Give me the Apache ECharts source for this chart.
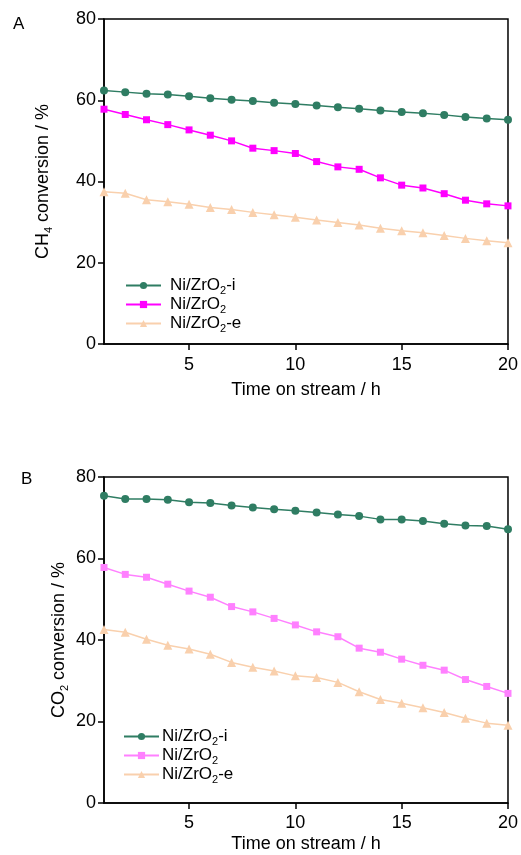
<!DOCTYPE html>
<html>
<head>
<meta charset="utf-8">
<script src="https://cdn.jsdelivr.net/npm/echarts@6/dist/echarts.min.js"></script>
<style>html,body{margin:0;padding:0;background:#fff}#c{width:521px;height:855px}</style>
</head>
<body>
<div id="c"></div>
<script>
var hours = [1,2,3,4,5,6,7,8,9,10,11,12,13,14,15,16,17,18,19,20];
var xTicks = [5,10,15,20];
var names = ['Ni/ZrO2-i','Ni/ZrO2','Ni/ZrO2-e'];
// Panel A: CH4 conversion (%)
var ch4_i = [62.4,62.0,61.6,61.4,61.0,60.5,60.1,59.8,59.4,59.1,58.7,58.3,57.9,57.5,57.1,56.8,56.4,55.9,55.5,55.2];
var ch4_n = [57.8,56.5,55.2,54.0,52.7,51.4,50.0,48.2,47.6,46.9,44.9,43.6,43.0,40.9,39.1,38.4,37.0,35.4,34.5,34.0];
var ch4_e = [37.5,37.1,35.5,35.0,34.4,33.6,33.1,32.4,31.8,31.2,30.5,29.9,29.3,28.5,27.9,27.4,26.7,26.0,25.4,24.9];
// Panel B: CO2 conversion (%)
var co2_i = [75.4,74.6,74.6,74.4,73.8,73.6,73.0,72.5,72.1,71.7,71.3,70.8,70.4,69.6,69.6,69.2,68.5,68.1,68.0,67.2];
var co2_n = [57.8,56.1,55.4,53.7,52.0,50.5,48.2,46.9,45.3,43.7,42.0,40.8,38.0,37.0,35.3,33.8,32.6,30.3,28.6,26.9];
var co2_e = [42.6,41.9,40.2,38.7,37.8,36.5,34.5,33.3,32.4,31.2,30.8,29.6,27.3,25.4,24.5,23.4,22.2,20.8,19.6,19.1];

var FONT = 'Liberation Sans, Arial, sans-serif';
var FS = 18;
var GREEN = '#2f7d63', MAG = '#ff00ff', PINK = '#ff80ff', PEACH = '#f9d0ad';

function pairs(v){ return hours.map(function(h,i){ return [h, v[i]]; }); }

function makeRich(lead, fs){
  fs = fs || 17;
  return {
    a: {fontSize: fs, fontFamily: FONT, color: '#000'},
    f: {fontSize: fs, fontFamily: FONT, color: '#000', padding: [0,0,0,lead]},
    s: {fontSize: 11, fontFamily: FONT, color: '#000', padding: [10,0,0,0]}
  };
}
function legendFmt(n){
  var m = n.match(/^Ni\/ZrO2(.*)$/);
  return '{f|Ni/ZrO}{s|2}' + (m[1] ? '{a|' + m[1] + '}' : '');
}

function xAx(gi, gap, margin){
  return {
    gridIndex: gi, type: 'value', min: 1, max: 20,
    name: 'Time on stream / h', nameLocation: 'middle', nameGap: gap, nameMoveOverlap: false,
    nameTextStyle: {fontSize: FS, fontFamily: FONT, color: '#000'},
    axisLine: {show: true, onZero: false, lineStyle: {color: '#000', width: 1.5}},
    axisTick: {show: true, inside: false, length: 6, customValues: xTicks, lineStyle: {color: '#000', width: 1.5}},
    axisLabel: {customValues: xTicks, fontSize: FS, fontFamily: FONT, color: '#000', margin: margin},
    splitLine: {show: false}
  };
}
function yAx(gi, sub, gap){
  return {
    gridIndex: gi, type: 'value', min: 0, max: 80, interval: 20,
    name: '{a|' + sub[0] + '}{s|' + sub[1] + '}{a|' + sub[2] + '}',
    nameLocation: 'middle', nameGap: gap, nameRotate: 90, nameMoveOverlap: false,
    nameTextStyle: {rich: makeRich(0, 18)},
    axisLine: {show: true, onZero: false, lineStyle: {color: '#000', width: 1.5}},
    axisTick: {show: true, inside: false, length: 6, lineStyle: {color: '#000', width: 1.5}},
    axisLabel: {fontSize: FS, fontFamily: FONT, color: '#000', margin: 8},
    splitLine: {show: false}
  };
}
function ser(name, data, color, symbol, size, gi){
  return {
    name: name, type: 'line', xAxisIndex: gi, yAxisIndex: gi,
    data: pairs(data), symbol: symbol, symbolSize: size, showSymbol: true,
    lineStyle: {color: color, width: 1.5}, itemStyle: {color: color},
    emphasis: {disabled: true}, animation: false, clip: false
  };
}

var chart = echarts.init(document.getElementById('c'), null, {renderer: 'canvas'});
chart.setOption({
  animation: false,
  backgroundColor: '#fff',
  title: [
    {text: 'A', left: 8, top: 11, textStyle: {fontSize: 17, fontWeight: 'normal', fontFamily: FONT, color: '#000'}},
    {text: 'B', left: 16, top: 466, textStyle: {fontSize: 17, fontWeight: 'normal', fontFamily: FONT, color: '#000'}}
  ],
  grid: [
    {left: 104, top: 19, right: 11, bottom: 511, show: true, borderColor: '#000', borderWidth: 1.5, backgroundColor: 'transparent'},
    {left: 104, top: 477, right: 11, bottom: 52, show: true, borderColor: '#000', borderWidth: 1.5, backgroundColor: 'transparent'}
  ],
  xAxis: [xAx(0, 37, 12), xAx(1, 32, 11)],
  yAxis: [yAx(0, ['CH','4',' conversion / %'], 50), yAx(1, ['CO','2',' conversion / %'], 34)],
  legend: [
    {top: 272, left: 120, orient: 'vertical', itemGap: 0, itemWidth: 35, itemHeight: 9,
     data: names, formatter: legendFmt, textStyle: {rich: makeRich(4)}, selectedMode: false},
    {top: 723, left: 118, orient: 'vertical', itemGap: 0, itemWidth: 35, itemHeight: 9,
     data: names.map(function(n){ return n + ' '; }),
     formatter: function(n){ return legendFmt(n.trim()); }, textStyle: {rich: makeRich(-2)}, selectedMode: false}
  ],
  series: [
    ser(names[0], ch4_i, GREEN, 'circle', 8, 0),
    ser(names[1], ch4_n, MAG, 'rect', 7, 0),
    ser(names[2], ch4_e, PEACH, 'triangle', 9, 0),
    ser(names[0] + ' ', co2_i, GREEN, 'circle', 8, 1),
    ser(names[1] + ' ', co2_n, PINK, 'rect', 7, 1),
    ser(names[2] + ' ', co2_e, PEACH, 'triangle', 9, 1)
  ]
});
</script>
</body>
</html>
